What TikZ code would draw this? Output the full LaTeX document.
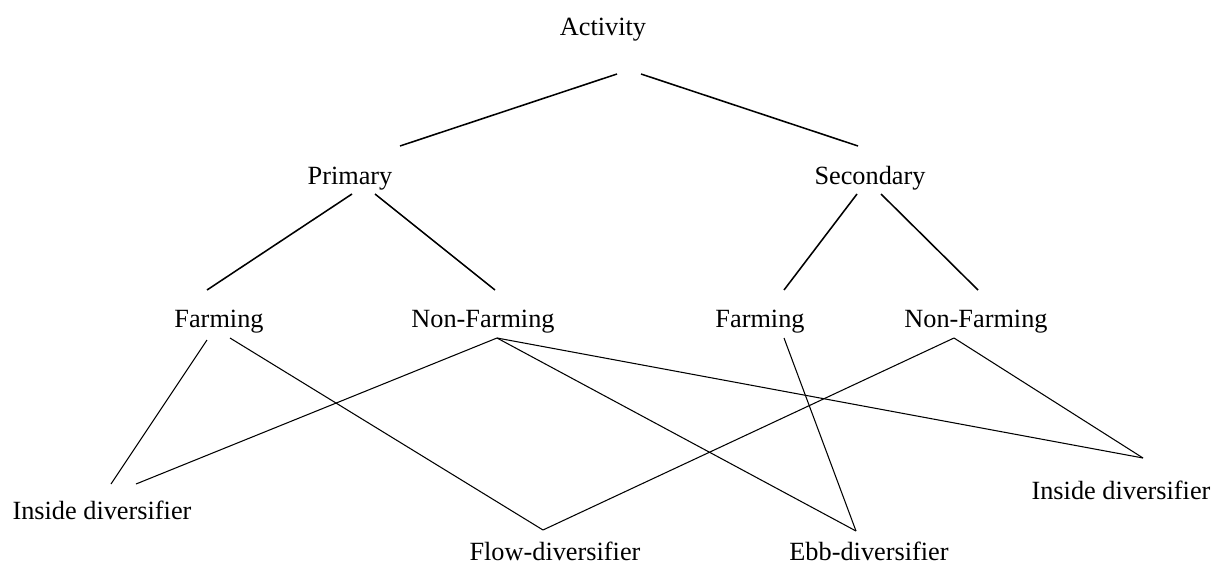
\documentclass[tikz,border=0pt]{standalone}
\usepackage{fontspec}
\setmainfont{Liberation Serif}
\usetikzlibrary{positioning}

\begin{document}
\begin{tikzpicture}[
    x = 0.025cm, y = -0.025cm, % one unit = one pixel of the page
    label/.style = {inner sep = 0pt, anchor = base,
        font = \fontsize{18.7}{22}\selectfont},
    upper/.style = {line width = 1.1pt}, % tree lines
    lower/.style = {line width = 0.75pt}, % diversifier lines
    ]
    \useasboundingbox (0,0) rectangle (1215,565);

    \node[label] (act) at (603,36) {Activity};
    \node[label] (pri) at (350,184) {Primary};
    \node[label] (sec) at (870,184) {Secondary};
    \node[label] (pfarm) at (219,327) {Farming};
    \node[label] (pnon) at (483,327) {Non-Farming};
    \node[label] (sfarm) at (760,327) {Farming};
    \node[label] (snon) at (976,327) {Non-Farming};
    \node[label] (insl) at (102,519) {Inside diversifier};
    \node[label] (flow) at (555,560) {Flow-diversifier};
    \node[label] (ebb) at (869,560) {Ebb-diversifier};
    \node[label] (insr) at (1121,499) {Inside diversifier};

    % line ends, a little away from the texts
    \coordinate (act1) at (617,74);
    \coordinate (act2) at (641,74);
    \coordinate (pri0) at (400,146);
    \coordinate (pri1) at (352,194);
    \coordinate (pri2) at (375,194);
    \coordinate (sec0) at (858,146);
    \coordinate (sec1) at (857,194);
    \coordinate (sec2) at (881,194);
    \coordinate (pfarm0) at (207,290);
    \coordinate (pfarm1) at (207,340);
    \coordinate (pfarm2) at (230,338);
    \coordinate (pnon0) at (495,290);
    \coordinate (pnon1) at (497,338);
    \coordinate (sfarm0) at (784,290);
    \coordinate (sfarm1) at (784,338);
    \coordinate (snon0) at (978,290);
    \coordinate (snon1) at (954,338);
    \coordinate (insl1) at (111,484);
    \coordinate (insl2) at (136,484);
    \coordinate (flow0) at (543,530);
    \coordinate (ebb0) at (856,531);
    \coordinate (insr0) at (1143,458);

    \draw[upper] (act1) -- (pri0);
    \draw[upper] (act2) -- (sec0);
    \draw[upper] (pri1) -- (pfarm0);
    \draw[upper] (pri2) -- (pnon0);
    \draw[upper] (sec1) -- (sfarm0);
    \draw[upper] (sec2) -- (snon0);

    \draw[lower] (pfarm1) -- (insl1);
    \draw[lower] (pfarm2) -- (flow0);
    \draw[lower] (pnon1) -- (insl2);
    \draw[lower] (pnon1) -- (ebb0);
    \draw[lower] (pnon1) -- (insr0);
    \draw[lower] (sfarm1) -- (ebb0);
    \draw[lower] (snon1) -- (flow0);
    \draw[lower] (snon1) -- (insr0);
\end{tikzpicture}
\end{document}
